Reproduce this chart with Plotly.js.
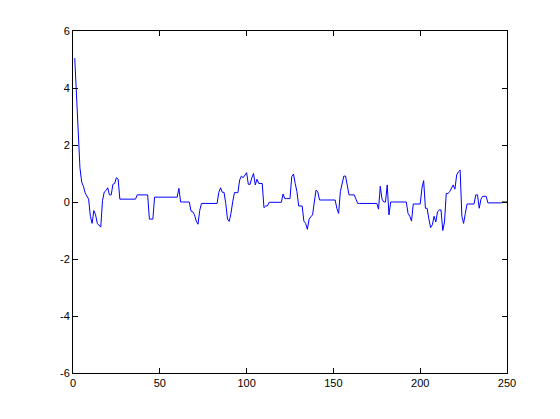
<!DOCTYPE html>
<html>
<head>
<meta charset="utf-8">
<script src="https://cdn.plot.ly/plotly-3.0.1.min.js"></script>
<style>html,body{margin:0;padding:0;background:#fff;}#chart{width:560px;height:419px;}</style>
</head>
<body>
<div id="chart"></div>
<script>
const seriesValues = [
  5.05, 3.7, 2.3, 1.2, 0.7, 0.55, 0.32, 0.22, 0.1, -0.5,
  -0.75, -0.3, -0.45, -0.75, -0.82, -0.88, 0.05, 0.35, 0.4, 0.5,
  0.25, 0.25, 0.62, 0.65, 0.85, 0.8, 0.1, 0.1, 0.1, 0.1,
  0.1, 0.1, 0.1, 0.1, 0.1, 0.1, 0.25, 0.25, 0.25, 0.25,
  0.25, 0.25, 0.25, -0.6, -0.6, -0.6, 0.17, 0.17, 0.17, 0.17,
  0.17, 0.17, 0.17, 0.17, 0.17, 0.17, 0.17, 0.17, 0.17, 0.17,
  0.48, 0.0, 0.0, 0.0, 0.0, 0.0, 0.0, -0.32, -0.34, -0.45,
  -0.67, -0.78, -0.3, -0.05, -0.05, -0.05, -0.05, -0.05, -0.05, -0.05,
  -0.05, -0.05, -0.05, 0.34, 0.5, 0.34, 0.34, -0.05, -0.6, -0.68,
  -0.4, 0.01, 0.33, 0.33, 0.33, 0.77, 0.91, 0.85, 0.93, 1.03,
  0.62, 0.62, 0.85, 1.0, 0.6, 0.8, 0.65, 0.65, 0.65, -0.2,
  -0.14, -0.14, -0.01, -0.01, -0.01, -0.01, -0.01, -0.01, -0.01, -0.01,
  0.28, 0.12, 0.12, 0.12, 0.12, 0.89, 0.98, 0.65, 0.36, -0.14,
  -0.14, -0.14, -0.67, -0.75, -0.96, -0.6, -0.52, -0.45, 0.0, 0.42,
  0.36, 0.07, 0.07, 0.07, 0.07, 0.07, 0.07, 0.07, 0.07, 0.07,
  0.07, -0.22, -0.4, 0.36, 0.65, 0.91, 0.91, 0.6, 0.25, 0.25,
  0.25, 0.25, 0.1, -0.05, -0.05, -0.05, -0.05, -0.05, -0.05, -0.05,
  -0.05, -0.05, -0.05, -0.05, -0.05, -0.25, 0.55, 0.1, 0.0, 0.0,
  0.6, -0.45, 0.0, 0.0, 0.0, 0.0, 0.0, 0.0, 0.0, 0.0,
  0.0, 0.0, -0.4, -0.5, -0.67, -0.07, -0.07, -0.07, -0.07, -0.07,
  0.48, 0.75, -0.22, -0.22, -0.6, -0.9, -0.8, -0.5, -0.7, -0.34,
  -0.28, -0.28, -1.0, -0.7, 0.3, 0.3, 0.36, 0.48, 0.6, 0.45,
  0.95, 1.06, 1.12, -0.5, -0.75, -0.4, -0.07, -0.07, -0.07, -0.07,
  -0.07, 0.25, 0.25, -0.22, 0.1, 0.2, 0.2, 0.2, -0.03, -0.03,
  -0.03, -0.03, -0.03, -0.03, -0.03, -0.03, -0.03
];
const seriesX = seriesValues.map((_, i) => i + 1);

const tailX = [247, 248, 249, 250];
const tailValues = [0.0, 0.0, 0.0, 0.0];

const xTickVals = [0, 50, 100, 150, 200, 250];
const yTickVals = [-6, -4, -2, 0, 2, 4, 6];

const traces = [
  {x: seriesX, y: seriesValues, type: 'scatter', mode: 'lines',
   line: {color: '#0000ff', width: 1}, hoverinfo: 'none'},
  {x: tailX, y: tailValues, type: 'scatter', mode: 'lines',
   line: {color: '#000000', width: 1}, hoverinfo: 'none'}
];

const axisCommon = {
  showgrid: false, zeroline: false, showline: true, linecolor: '#000', linewidth: 1,
  mirror: 'allticks', ticks: 'inside', ticklen: 5, tickcolor: '#000', tickwidth: 1,
  tickfont: {family: 'Liberation Sans, Arial, sans-serif', size: 11, color: '#000'}
};

const layout = {
  width: 560, height: 419,
  margin: {l: 73, r: 53, t: 31, b: 46, pad: 0},
  paper_bgcolor: '#fff', plot_bgcolor: '#fff',
  showlegend: false,
  xaxis: Object.assign({}, axisCommon, {range: [0, 250], tickvals: xTickVals, ticktext: xTickVals.map(String)}),
  yaxis: Object.assign({}, axisCommon, {range: [-6, 6], tickvals: yTickVals, ticktext: yTickVals.map(String)})
};

Plotly.newPlot('chart', traces, layout, {staticPlot: true, displayModeBar: false});
</script>
</body>
</html>
